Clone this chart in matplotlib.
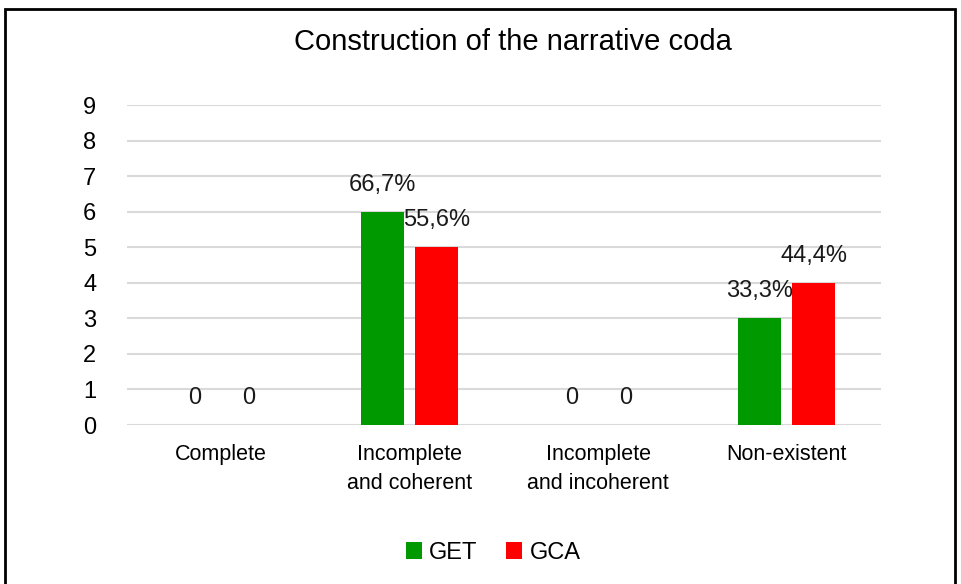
import matplotlib.pyplot as plt
import numpy as np
from matplotlib.patches import Rectangle

categories = ["Complete", "Incomplete\nand coherent", "Incomplete\nand incoherent", "Non-existent"]
get_values = [0, 6, 0, 3]
gca_values = [0, 5, 0, 4]
get_labels = ["0", "66,7%", "0", "33,3%"]
gca_labels = ["0", "55,6%", "0", "44,4%"]

plt.rcParams['font.family'] = ['Liberation Sans', 'DejaVu Sans']

fig = plt.figure(figsize=(9.61, 5.84), dpi=100)
ax = fig.add_axes([127/961, 1-425/584, 754/961, 320/584])

x = np.arange(len(categories))
w = 0.228
off = 0.143
b1 = ax.bar(x - off, get_values, w, color='#009900', label='GET', zorder=3)
b2 = ax.bar(x + off, gca_values, w, color='#ff0000', label='GCA', zorder=3)

for bars, labs in ((b1, get_labels), (b2, gca_labels)):
    for rect, lab in zip(bars, labs):
        ax.annotate(lab, (rect.get_x() + rect.get_width()/2, rect.get_height()),
                    xytext=(0, 19.5), textcoords='offset points',
                    ha='center', va='center', fontsize=17, color='#1a1a1a', zorder=4)

ax.set_xlim(-0.5, len(categories) - 0.5)
ax.set_ylim(0, 9)
ax.set_yticks(range(10))
ax.set_xticks(x)
ax.set_xticklabels(categories, fontsize=15.5, linespacing=1.45)
ax.tick_params(axis='y', labelsize=17, length=0, pad=22)
ax.tick_params(axis='x', length=0, pad=14)
ax.yaxis.grid(True, color='#d9d9d9', linewidth=1.5, zorder=0)
for s in ax.spines.values():
    s.set_visible(False)

fig.suptitle("Construction of the narrative coda", x=513/961, y=1-42/584,
             va='center', fontsize=21)

fig.legend(handles=[b1, b2], loc='center', bbox_to_anchor=(493/961, 1-553/584),
           ncol=2, frameon=False, fontsize=17, handlelength=0.7, handleheight=0.7,
           handletextpad=0.3, columnspacing=1.2)

fig.patches.append(Rectangle((5/961, -0.05), 950/961, 1.05 - 9/584,
                             transform=fig.transFigure, fill=False,
                             edgecolor='black', linewidth=2))

fig.savefig("out.png", dpi=100)
